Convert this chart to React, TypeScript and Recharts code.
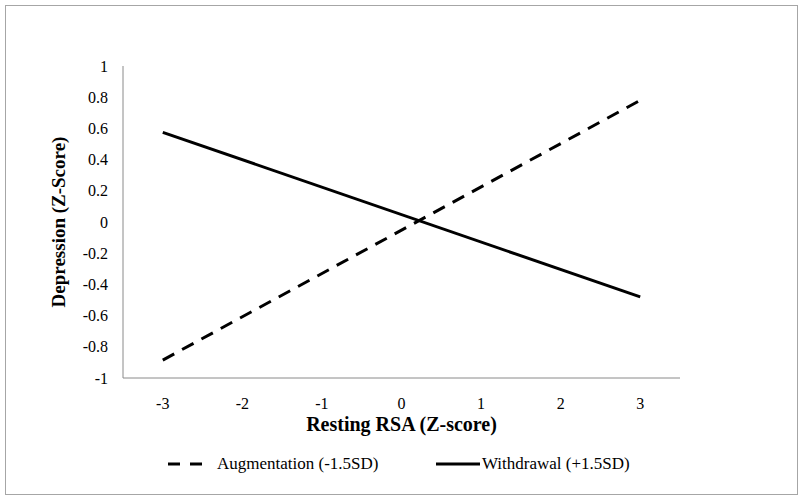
import { LineChart, Line, XAxis, YAxis, Legend } from "recharts"

// Resting RSA x values (two ends of each simple slope)
const rsaValues = [-3, 3]
const augmentation = [-0.885, 0.78]
const withdrawal = [0.575, -0.48]

const xTicks = [-3, -2, -1, 0, 1, 2, 3]
const yTicks = [-1, -0.8, -0.6, -0.4, -0.2, 0, 0.2, 0.4, 0.6, 0.8, 1]

const series = [
  { key: "augmentation", name: "Augmentation (-1.5SD)", dash: "13 9" },
  { key: "withdrawal", name: "Withdrawal (+1.5SD)", dash: undefined },
]

const data = rsaValues.map((x, i) => ({
  x,
  augmentation: augmentation[i],
  withdrawal: withdrawal[i],
}))

const FONT = "Liberation Serif"
const AXIS_GRAY = "#8a8a8a"

const LegendContent = () => (
  <div style={{ fontFamily: FONT, fontSize: 17, color: "#000" }}>
    <div style={{ position: "absolute", left: 168, top: 0, display: "flex", alignItems: "center" }}>
      <svg width={36} height={8}>
        <line x1={0} y1={4} x2={36} y2={4} stroke="#000" strokeWidth={3} strokeDasharray="12 10" />
      </svg>
      <span style={{ marginLeft: 13 }}>{series[0].name}</span>
    </div>
    <div style={{ position: "absolute", left: 436, top: 0, display: "flex", alignItems: "center" }}>
      <svg width={44} height={8}>
        <line x1={0} y1={4} x2={44} y2={4} stroke="#000" strokeWidth={3} />
      </svg>
      <span style={{ marginLeft: 2 }}>{series[1].name}</span>
    </div>
  </div>
)

export default function App() {
  return (
    <div
      style={{
        position: "absolute",
        left: 0,
        top: 0,
        width: 800,
        height: 499,
        background: "#fff",
        fontFamily: FONT,
      }}
    >
      <div
        style={{
          position: "absolute",
          left: 5,
          top: 5,
          width: 791,
          height: 488,
          border: "1px solid #a6a6a6",
        }}
      />
      <LineChart
        width={800}
        height={499}
        data={data}
        margin={{ top: 66, right: 120, left: 0, bottom: 71 }}
        style={{ fontFamily: FONT }}
      >
        <XAxis
          dataKey="x"
          type="number"
          domain={[-3.5, 3.5]}
          ticks={xTicks}
          tickLine={false}
          tickSize={0}
          tickMargin={20}
          height={30}
          stroke={AXIS_GRAY}
          tick={{ fill: "#000", fontFamily: FONT, fontSize: 16 }}
          label={{
            value: "Resting RSA (Z-score)",
            position: "bottom",
            offset: 9,
            style: { fill: "#000", fontFamily: FONT, fontSize: 20, fontWeight: "bold" },
          }}
        />
        <XAxis xAxisId="top" orientation="top" height={0} tick={false} tickLine={false} stroke={AXIS_GRAY} />
        <YAxis
          type="number"
          domain={[-1, 1]}
          ticks={yTicks}
          tickLine={false}
          tickSize={0}
          tickMargin={15}
          width={123}
          stroke={AXIS_GRAY}
          tick={{ fill: "#000", fontFamily: FONT, fontSize: 16 }}
          label={{
            value: "Depression (Z-Score)",
            angle: -90,
            position: "insideLeft",
            offset: 58,
            style: {
              fill: "#000",
              fontFamily: FONT,
              fontSize: 19,
              fontWeight: "bold",
              textAnchor: "middle",
            },
          }}
        />
        <YAxis yAxisId="right" orientation="right" width={0} tick={false} tickLine={false} stroke={AXIS_GRAY} />
        {series.map((s) => (
          <Line
            key={s.key}
            dataKey={s.key}
            name={s.name}
            stroke="#000"
            strokeWidth={3}
            strokeDasharray={s.dash}
            dot={false}
            isAnimationActive={false}
          />
        ))}
        <Legend content={<LegendContent />} wrapperStyle={{ top: 454, left: 0, width: 800, height: 20 }} />
      </LineChart>
    </div>
  )
}
